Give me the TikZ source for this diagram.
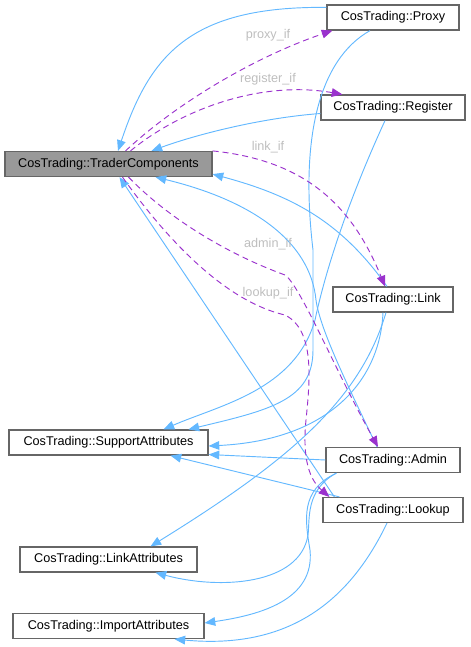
\documentclass[tikz,border=0pt]{standalone}
\usepackage{fontspec}
\setmainfont{Liberation Sans}
\usetikzlibrary{arrows.meta}
\definecolor{edgeblue}{HTML}{63B8FF}
\definecolor{usepurple}{HTML}{9A32CD}
\definecolor{labelgray}{HTML}{BEBEBE}
\definecolor{boxgray}{HTML}{666666}
\definecolor{mainfill}{HTML}{999999}
\begin{document}
\begin{tikzpicture}[
    x=0.75pt, y=-0.75pt,
    classbox/.style={rectangle, draw=boxgray, line width=0.9pt, fill=white,
        minimum height=18.75pt, inner sep=0pt, font=\fontsize{9.5}{11}\selectfont},
    mainclass/.style={classbox, fill=mainfill},
    inherit/.style={draw=edgeblue, line width=0.7pt, -{Triangle[length=8pt,width=6.5pt]}},
    usage/.style={draw=usepurple, line width=0.7pt, dash pattern=on 4.5pt off 3pt,
        -{Triangle[length=8pt,width=6.5pt]}},
    usagelabel/.style={text=labelgray, inner sep=0pt, font=\fontsize{9.5}{11}\selectfont}
]
\useasboundingbox (0,0) rectangle (471,647);
\node (tc) [mainclass, minimum width=155.25pt] at (108.5,164) {CosTrading::TraderComponents};
\node (proxy) [classbox, minimum width=99pt] at (393,17.5) {CosTrading::Proxy};
\node (register) [classbox, minimum width=108pt] at (393,107.5) {CosTrading::Register};
\node (link) [classbox, minimum width=90pt] at (393,299.5) {CosTrading::Link};
\node (support) [classbox, minimum width=149.25pt] at (108.5,442.5) {CosTrading::SupportAttributes};
\node (admin) [classbox, minimum width=100.5pt] at (393,460) {CosTrading::Admin};
\node (lookup) [classbox, minimum width=105pt] at (393,510) {CosTrading::Lookup};
\node (linkattr) [classbox, minimum width=132.75pt] at (108.5,559.5) {CosTrading::LinkAttributes};
\node (importattr) [classbox, minimum width=143.25pt] at (108.5,626) {CosTrading::ImportAttributes};

\draw[inherit] ([shift={(0,3)}]proxy.north west) .. controls (190,6) and (150,55) .. ([shift={(9.5,0)}]tc.north);
\draw[inherit] ([shift={(-23,0)}]proxy.south) .. controls (318,60) and (300,140) .. (313,250)
    -- (313,350) .. controls (313,400) and (270,410) .. ([shift={(80,0)}]support.north);
\draw[inherit] ([shift={(0,6)}]register.west) .. controls (260,118) and (195,135) .. ([shift={(43,0)}]tc.north);
\draw[inherit] ([shift={(-8,0)}]register.south) .. controls (360,175) and (330,250) .. (315,320)
    .. controls (295,390) and (220,405) .. ([shift={(55,0)}]support.north);
\draw[inherit] ([shift={(-6,0)}]link.north) .. controls (340,220) and (290,195) .. ([shift={(0,-3)}]tc.south east);
\draw[inherit] ([shift={(-10,0)}]link.south) .. controls (380,380) and (330,440) .. ([shift={(0,3.5)}]support.east);
\draw[inherit] ([shift={(-7,0)}]link.south) .. controls (360,400) and (290,460) .. ([shift={(42,0)}]linkattr.north);
\draw[inherit] ([shift={(-16,0)}]admin.north) .. controls (350,390) and (320,330) .. (316,300)
    .. controls (310,240) and (250,200) .. ([shift={(47,0)}]tc.south);
\draw[inherit] (admin.west) -- ([shift={(0,12)}]support.east);
\draw[inherit] ([shift={(11,0)}]admin.south west) .. controls (305,490) and (310,520) .. (308,535)
    .. controls (300,585) and (220,590) .. ([shift={(47,0)}]linkattr.south);
\draw[inherit] ([shift={(11,0)}]admin.south west) .. controls (300,490) and (305,520) .. (310,550)
    .. controls (315,600) and (260,615) .. ([shift={(0,-3)}]importattr.east);
\draw[inherit] ([shift={(12,0)}]lookup.north west) -- ([shift={(11,0)}]tc.south);
\draw[inherit] ([shift={(17,0)}]lookup.north west) -- ([shift={(62,0)}]support.south);
\draw[inherit] ([shift={(-6,0)}]lookup.south) .. controls (350,600) and (290,650) .. ([shift={(66,0)}]importattr.south);

\draw[usage] ([shift={(17,0)}]tc.north) .. controls (180,100) and (260,55) .. ([shift={(6,0)}]proxy.south west);
\draw[usage] ([shift={(22,0)}]tc.north) .. controls (180,110) and (260,80) .. ([shift={(22,0)}]register.north west);
\draw[usage] (tc.north east) .. controls (300,160) and (350,200) .. ([shift={(-8,0)}]link.north);
\draw[usage] ([shift={(20,0)}]tc.south) .. controls (170,220) and (230,255) .. (285,275)
    .. controls (300,285) and (335,370) .. ([shift={(-15,0)}]admin.north);
\draw[usage] ([shift={(14,0)}]tc.south) .. controls (160,230) and (220,300) .. (285,315)
    .. controls (315,330) and (310,380) .. (306,420) .. controls (302,460) and (310,480) .. ([shift={(7,0)}]lookup.north west);

\node (lproxy) [usagelabel] at (268,35) {proxy\_if};
\node (lregister) [usagelabel] at (268,79) {register\_if};
\node (llink) [usagelabel] at (268,147) {link\_if};
\node (ladmin) [usagelabel] at (268,244) {admin\_if};
\node (llookup) [usagelabel] at (268,293) {lookup\_if};
\end{tikzpicture}
\end{document}
